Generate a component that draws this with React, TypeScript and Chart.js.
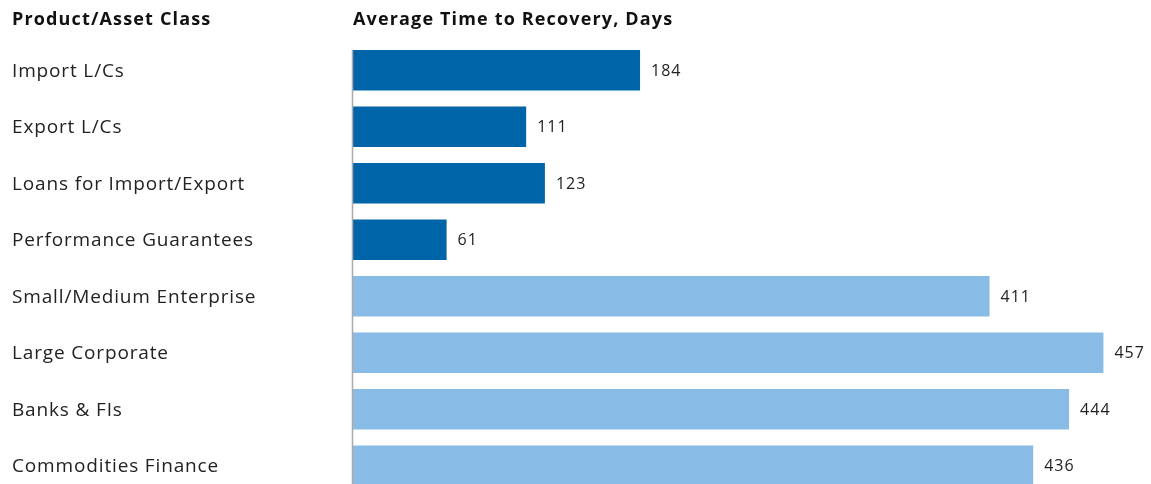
import React, { useEffect, useRef } from "react";
import { Chart, registerables } from "chart.js";

Chart.register(...registerables);

const categories = [
  "Import L/Cs",
  "Export L/Cs",
  "Loans for Import/Export",
  "Performance Guarantees",
  "Small/Medium Enterprise",
  "Large Corporate",
  "Banks & FIs",
  "Commodities Finance",
];
// bar lengths as drawn in the picture
const barLengths = [184, 111, 123, 60, 408, 481, 459, 436];
// numbers printed beside the bars
const valueLabels = ["184", "111", "123", "61", "411", "457", "444", "436"];
const groups = ["trade", "trade", "trade", "trade", "credit", "credit", "credit", "credit"];
const groupColors: Record<string, string> = { trade: "#0064A8", credit: "#88BBE5" };
const leftTitle = "Product/Asset Class";
const rightTitle = "Average Time to Recovery, Days";

const FONT = "'Open Sans', 'Noto Sans', sans-serif";

export default function App() {
  const ref = useRef<HTMLCanvasElement | null>(null);
  useEffect(() => {
    document.body.style.margin = "0";
    const canvas = ref.current!;
    const overlay = {
      id: "overlay",
      afterDatasetsDraw(chart: any) {
        const ctx = chart.ctx;
        const meta = chart.getDatasetMeta(0);
        const yScale = chart.scales.y;
        ctx.save();
        // axis line
        const first = meta.data[0] as any;
        const x0 = chart.scales.x.getPixelForValue(0);
        ctx.strokeStyle = "#aaaaaa";
        ctx.lineWidth = 1.5;
        ctx.beginPath();
        ctx.moveTo(x0 - 0.5, first.y - first.height / 2);
        ctx.lineTo(x0 - 0.5, chart.height);
        ctx.stroke();
        // category labels
        ctx.fillStyle = "#222";
        ctx.textAlign = "left";
        ctx.textBaseline = "middle";
        ctx.font = `19px ${FONT}`;
        (ctx as any).letterSpacing = "0.85px";
        categories.forEach((c, i) => {
          ctx.fillText(c, 12, yScale.getPixelForValue(i) + 1);
        });
        // value labels
        ctx.font = `16px ${FONT}`;
        (ctx as any).letterSpacing = "1px";
        meta.data.forEach((bar: any, i: number) => {
          ctx.fillText(valueLabels[i], bar.x + 11, bar.y + 1);
        });
        // titles
        ctx.font = `bold 18px ${FONT}`;
        (ctx as any).letterSpacing = "1.15px";
        ctx.textBaseline = "alphabetic";
        ctx.fillStyle = "#111";
        ctx.fillText(leftTitle, 12, 25);
        ctx.fillText(rightTitle, x0, 25);
        (ctx as any).letterSpacing = "0px";
        ctx.restore();
      },
    };
    const chart = new Chart(canvas, {
      type: "bar",
      data: {
        labels: categories,
        datasets: [
          {
            data: barLengths,
            backgroundColor: groups.map((g) => groupColors[g]),
            barPercentage: 0.72,
            categoryPercentage: 1,
          },
        ],
      },
      options: {
        indexAxis: "y",
        animation: false,
        responsive: false,
        devicePixelRatio: 1,
        layout: { padding: { left: 12, top: 42, right: 0, bottom: 0 } },
        plugins: { legend: { display: false }, tooltip: { enabled: false } },
        scales: {
          x: { display: false, min: 0, max: 511.5 },
          y: {
            grid: { display: false },
            border: { display: false },
            ticks: { display: false },
            afterFit: (s: any) => {
              s.width = 341;
            },
          },
        },
      },
      plugins: [overlay],
    } as any);
    return () => chart.destroy();
  }, []);
  return (
    <div style={{ width: 1151, height: 494 }}>
      <canvas ref={ref} width={1151} height={494} style={{ display: "block" }} />
    </div>
  );
}
